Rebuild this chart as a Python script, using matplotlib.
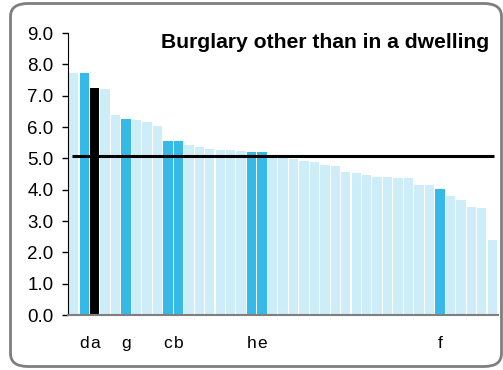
import numpy as np
import matplotlib.pyplot as plt
from matplotlib.patches import FancyBboxPatch

plt.rcParams['font.family'] = ['Liberation Sans', 'DejaVu Sans']

# bar values, sorted descending
values = [7.72, 7.72, 7.24, 7.21, 6.38, 6.26, 6.22, 6.16, 6.03, 5.55,
          5.55, 5.43, 5.36, 5.30, 5.27, 5.27, 5.23, 5.20, 5.20, 5.07,
          5.05, 4.98, 4.92, 4.88, 4.79, 4.76, 4.56, 4.53, 4.47, 4.40,
          4.40, 4.37, 4.37, 4.15, 4.15, 4.02, 3.80, 3.67, 3.45, 3.42,
          2.39]
labels = [''] * len(values)
labels[1] = 'd'
labels[2] = 'a'
labels[5] = 'g'
labels[9] = 'c'
labels[10] = 'b'
labels[17] = 'h'
labels[18] = 'e'
labels[35] = 'f'
highlight = ['d', 'g', 'c', 'b', 'h', 'e', 'f']
focus = ['a']
average = 5.08

light = '#cdedf9'
blue = '#35b9e9'

colors = []
for lab in labels:
    if lab in focus:
        colors.append('black')
    elif lab in highlight:
        colors.append(blue)
    else:
        colors.append(light)

fig = plt.figure(figsize=(5.03, 3.70), dpi=100)

# rounded frame round the whole chart
frame = FancyBboxPatch((10.5 / 503, 3.5 / 370), 491 / 503, 363 / 370,
                       boxstyle='round,pad=0,rounding_size=0.035',
                       transform=fig.transFigure, facecolor='none',
                       edgecolor='#7f7f7f', linewidth=2, zorder=5)
fig.patches.append(frame)

ax = fig.add_axes([68 / 503, 55 / 370, 430 / 503, 282 / 370])
ax.patch.set_alpha(0)

x = np.arange(len(values))
ax.bar(x, values, width=0.9, color=colors, zorder=2)
ax.hlines(average, -0.15, len(values) - 0.85, color='black', linewidth=2.2, zorder=3)

ax.set_xlim(-0.55, len(values) - 0.45)
ax.set_ylim(0, 9)
ax.set_yticks(np.arange(0, 9.5, 1.0))
ax.set_yticklabels(['%.1f' % v for v in np.arange(0, 9.5, 1.0)], fontsize=13.5)
ax.set_xticks(x)
ax.set_xticklabels(labels, fontsize=12.5)
ax.tick_params(axis='x', length=0, pad=15)
ax.tick_params(axis='y', length=4.5, width=1, pad=6)

ax.spines['top'].set_visible(False)
ax.spines['right'].set_visible(False)
ax.spines['bottom'].set_color('#7f7f7f')
ax.spines['bottom'].set_linewidth(1.5)

ax.text(0.98, 0.968, 'Burglary other than in a dwelling', transform=ax.transAxes,
        ha='right', va='center', fontsize=15.2, fontweight='bold')

fig.savefig('out.png', dpi=100)
